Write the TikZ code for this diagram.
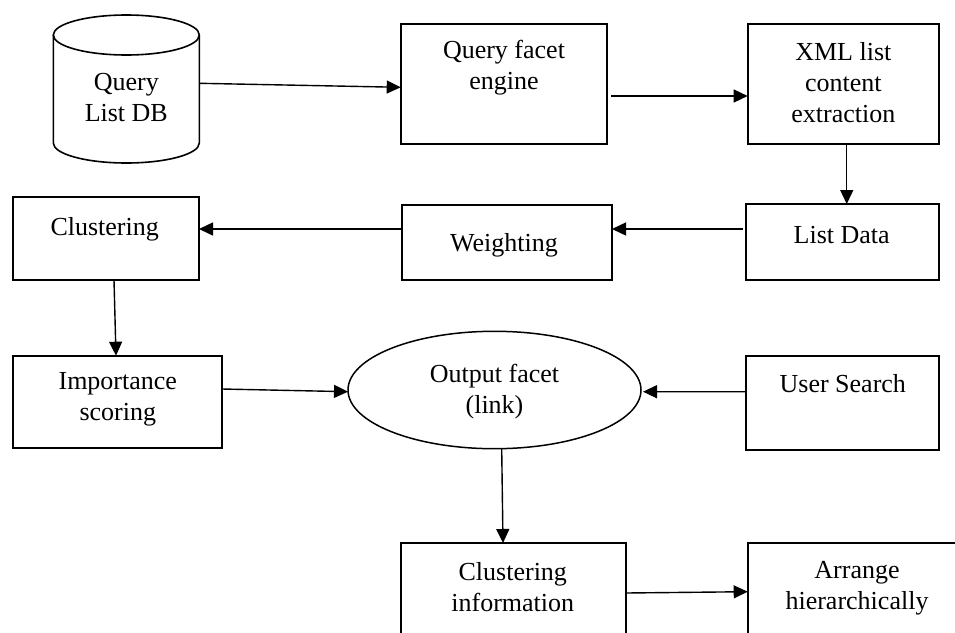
\documentclass[tikz,border=0pt]{standalone}
\usepackage{fontspec}
\setmainfont{Liberation Serif}
\usetikzlibrary{arrows.meta,shapes.geometric}
\tikzset{
  box/.style={draw=black, line width=1.8pt, rectangle, inner sep=0pt, outer sep=0pt},
  txt/.style={align=center, inner sep=0pt, font=\fontsize{26}{31}\selectfont},
  conn/.style={line width=1.4pt, -{Triangle[length=14pt,width=13pt]}},
  oval/.style={draw=black, line width=1.5pt, ellipse, inner sep=0pt, outer sep=0pt}
}
\begin{document}
\begin{tikzpicture}[x=1pt,y=1pt]
\useasboundingbox (0,0) rectangle (955,-632);
\fill[white] (0,0) rectangle (955,-632);
\clip (0,0) rectangle (955,-632);
% cylinder
\node[inner sep=0pt, outer sep=0pt, minimum width=146pt, minimum height=148pt] (cyl) at (126.3,-89) {};
\draw[line width=1.6pt] (53.3,-35) -- (53.3,-143) arc[start angle=180, end angle=360, x radius=73pt, y radius=20pt] -- (199.3,-35);
\draw[line width=1.6pt] (126.3,-35) ellipse[x radius=73pt, y radius=20pt];
\node[txt] (cyl-t) at (126.3,-98) {Query\\List DB};
% boxes
\node[box, minimum width=206.3pt, minimum height=120pt] (qfe) at (503.85,-84) {};
\node[txt] (qfe-t) at (504,-67.5) {Query facet\\engine};
\node[box, minimum width=191.3pt, minimum height=120pt] (xml) at (843.35,-84) {};
\node[txt] (xml-t) at (843.3,-83) {XML list\\content\\extraction};
\node[box, minimum width=193.3pt, minimum height=76pt] (ld) at (842.35,-242) {};
\node[txt] (ld-t) at (841.7,-235) {List Data};
\node[box, minimum width=210pt, minimum height=75pt] (wt) at (507,-242.5) {};
\node[txt] (wt-t) at (504,-245) {Weighting};
\node[box, minimum width=186.3pt, minimum height=83pt] (cl) at (105.85,-238.5) {};
\node[txt] (cl-t) at (104.7,-229) {Clustering};
\node[box, minimum width=209.3pt, minimum height=92.3pt] (imp) at (117.35,-401.85) {};
\node[txt] (imp-t) at (117.8,-399) {Importance\\scoring};
\node[oval, minimum width=293pt, minimum height=117.4pt] (ell) at (494.5,-390) {};
\node[txt] (ell-t) at (494.5,-392) {Output facet\\(link)};
\node[box, minimum width=193.3pt, minimum height=94.3pt] (us) at (842.35,-402.85) {};
\node[txt] (us-t) at (842.8,-384) {User Search};
\node[box, minimum width=225.3pt, minimum height=117pt] (ci) at (513.35,-601.5) {};
\node[txt] (ci-t) at (512.8,-587) {Clustering\\information};
\node[box, minimum width=219.3pt, minimum height=117pt] (ar) at (857.35,-601.5) {};
\node[txt] (ar-t) at (857,-588) {Arrange\\hierarchically};
% connectors
\draw[conn] ([yshift=5.7pt]cyl.east) -- ([yshift=-3.3pt]qfe.west);
\draw[conn] ([xshift=4pt,yshift=-12pt]qfe.east) -- ([yshift=-12pt]xml.west);
\draw[conn] ([xshift=3.4pt]xml.south) -- ([xshift=4.4pt]ld.north);
\draw[conn] ([xshift=-2.5pt,yshift=13pt]ld.west) -- ([yshift=13.5pt]wt.east);
\draw[conn] ([yshift=13.5pt]wt.west) -- ([yshift=9.5pt]cl.east);
\draw[conn] ([xshift=8.15pt]cl.south) -- ([xshift=-1.35pt]imp.north);
\draw[conn] ([yshift=12.85pt]imp.east) -- ([yshift=-1.7pt]ell.west);
\draw[conn] ([xshift=1pt,yshift=11.15pt]us.west) -- ([xshift=2pt,yshift=-1.7pt]ell.east);
\draw[conn] ([xshift=7.2pt]ell.south) -- ([xshift=-10.35pt]ci.north);
\draw[conn] ([yshift=8.5pt]ci.east) -- ([yshift=9.8pt]ar.west);
\end{tikzpicture}
\end{document}
